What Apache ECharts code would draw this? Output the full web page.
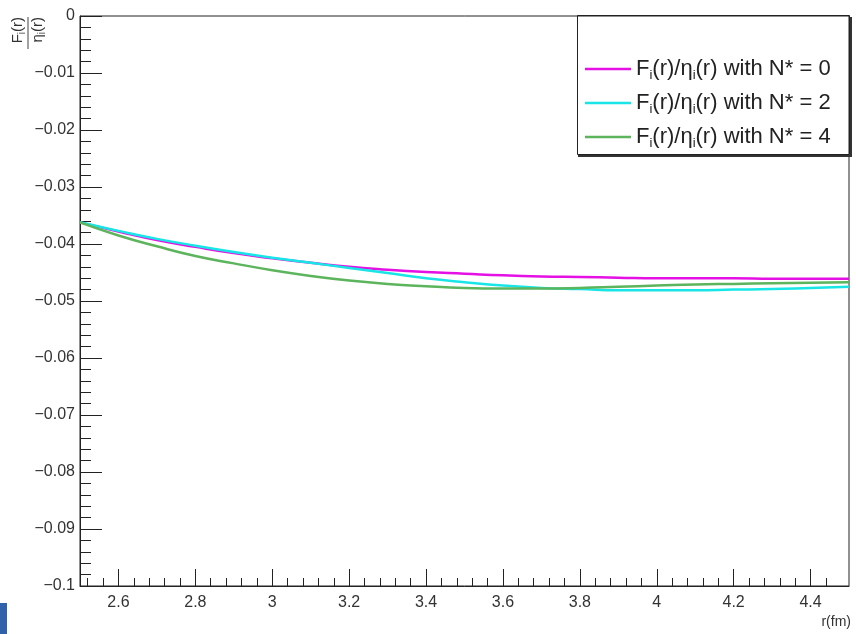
<!DOCTYPE html>
<html>
<head>
<meta charset="utf-8">
<script src="https://cdn.jsdelivr.net/npm/echarts@6/dist/echarts.min.js"></script>
<style>
  html, body { margin: 0; padding: 0; background: #fff; }
  #chart { width: 856px; height: 634px; }
</style>
</head>
<body>
<div id="chart"></div>
<script>
// r (fm) sample points
const rValues = [2.5, 2.6, 2.7, 2.8, 2.9, 3.0, 3.1, 3.2, 3.3, 3.4, 3.5,
  3.6, 3.7, 3.8, 3.9, 4.0, 4.1, 4.2, 4.3, 4.4, 4.5];
// F_i(r)/eta_i(r), N* = 0
const ratioN0 = [-0.0362, -0.0378, -0.0393, -0.0405, -0.0416, -0.0425, -0.0433,
  -0.0440, -0.0445, -0.0449, -0.0452, -0.0455, -0.0457, -0.0458, -0.0459,
  -0.0460, -0.0460, -0.0460, -0.0461, -0.0461, -0.0461];
// N* = 2
const ratioN2 = [-0.0362, -0.0377, -0.0391, -0.0403, -0.0414, -0.0424, -0.0433,
  -0.0442, -0.0451, -0.0460, -0.0467, -0.0473, -0.0477, -0.0479, -0.0481,
  -0.0481, -0.0481, -0.0480, -0.0479, -0.0477, -0.0475];
// N* = 4
const ratioN4 = [-0.0362, -0.0385, -0.0404, -0.0421, -0.0434, -0.0446, -0.0456,
  -0.0464, -0.0470, -0.0474, -0.0477, -0.0478, -0.0478, -0.0477, -0.0475,
  -0.0473, -0.0471, -0.0470, -0.0469, -0.0468, -0.0467];

const seriesNames = ["N0", "N2", "N4"];
const legendLabels = {
  N0: "F{s|i}(r)/η{s|i}(r) with N* = 0",
  N2: "F{s|i}(r)/η{s|i}(r) with N* = 2",
  N4: "F{s|i}(r)/η{s|i}(r) with N* = 4"
};

// axis ticks
const xTickValues = [2.6, 2.8, 3.0, 3.2, 3.4, 3.6, 3.8, 4.0, 4.2, 4.4];
const xTickLabels = ["2.6", "2.8", "3", "3.2", "3.4", "3.6", "3.8", "4", "4.2", "4.4"];
const yTickLabels = ["0", "−0.01", "−0.02", "−0.03", "−0.04", "−0.05",
  "−0.06", "−0.07", "−0.08", "−0.09", "−0.1"];

// minor ticks on x every 0.04 (2.52, 2.56, ...)
let xMinorTicks = [];
for (let k = 1; k < 50; k++) {
  xMinorTicks.push(Math.round((2.48 + k * 0.04) * 1000) / 1000);
}

const font = "'Liberation Sans Narrow', 'Liberation Sans', Arial, sans-serif";

function pairs(ys) {
  return rValues.map(function (x, i) {
    return [x, ys[i]];
  });
}

const chart = echarts.init(document.getElementById("chart"));
chart.setOption({
  animation: false,
  backgroundColor: "#fff",
  grid: {
    left: 80,
    right: 7,
    top: 16,
    bottom: 48,
    show: true,
    borderColor: "#222",
    borderWidth: 1
  },
  xAxis: [
    {
      type: "value",
      min: 2.5,
      max: 4.5,
      position: "bottom",
      axisLine: { show: true, onZero: false, lineStyle: { color: "#222", width: 1 } },
      axisTick: {
        inside: true,
        length: 17,
        customValues: xTickValues,
        lineStyle: { color: "#222" }
      },
      axisLabel: {
        customValues: xTickValues,
        margin: 9,
        color: "#333",
        fontFamily: font,
        fontSize: 16,
        formatter: function (v) {
          const i = xTickValues.findIndex((t) => Math.abs(t - v) < 1e-6);
          return i >= 0 ? xTickLabels[i] : "";
        }
      },
      splitLine: { show: false }
    },
    {
      type: "value",
      min: 2.5,
      max: 4.5,
      position: "bottom",
      axisLine: { show: false, onZero: false },
      axisTick: {
        inside: true,
        length: 8,
        customValues: xMinorTicks,
        lineStyle: { color: "#222" }
      },
      axisLabel: { show: false },
      splitLine: { show: false }
    }
  ],
  yAxis: {
    type: "value",
    min: -0.1,
    max: 0,
    interval: 0.01,
    axisLine: { show: true, onZero: false, lineStyle: { color: "#222", width: 1 } },
    axisTick: { inside: true, length: 22, lineStyle: { color: "#222" } },
    minorTick: { show: true, splitNumber: 5, length: 11, lineStyle: { color: "#222" } },
    axisLabel: {
      margin: 5,
      color: "#333",
      fontFamily: font,
      fontSize: 16,
      formatter: function (v) {
        return yTickLabels[Math.round(-v / 0.01)];
      }
    },
    splitLine: { show: false }
  },
  legend: {
    orient: "vertical",
    left: 580,
    top: 51,
    icon: "rect",
    itemWidth: 46,
    itemHeight: 2.5,
    itemGap: 8,
    data: seriesNames,
    formatter: function (name) {
      return legendLabels[name];
    },
    textStyle: {
      fontFamily: font,
      fontSize: 22,
      lineHeight: 26,
      color: "#222",
      rich: {
        s: { fontFamily: font, fontSize: 13, padding: [13, 0, 0, 0], color: "#222" }
      }
    }
  },
  series: [
    {
      name: "N0",
      type: "line",
      data: pairs(ratioN0),
      smooth: true,
      symbol: "none",
      lineStyle: { color: "#e410e4", width: 2.5 },
      itemStyle: { color: "#e410e4" }
    },
    {
      name: "N2",
      type: "line",
      data: pairs(ratioN2),
      smooth: true,
      symbol: "none",
      lineStyle: { color: "#18e6e6", width: 2.5 },
      itemStyle: { color: "#18e6e6" }
    },
    {
      name: "N4",
      type: "line",
      data: pairs(ratioN4),
      smooth: true,
      symbol: "none",
      lineStyle: { color: "#5cb45c", width: 2.5 },
      itemStyle: { color: "#5cb45c" }
    }
  ],
  graphic: [
    // legend box
    {
      type: "rect",
      shape: { x: 577.5, y: 15.5, width: 272, height: 139 },
      style: { fill: "none", stroke: "#222", lineWidth: 1 },
      z: 10
    },
    {
      type: "polyline",
      shape: { points: [[578, 156], [851, 156], [851, 17]] },
      style: { stroke: "#333", lineWidth: 2, fill: "none" },
      z: 10
    },
    // y axis title (rotated fraction)
    {
      type: "text",
      x: 18,
      y: 17,
      rotation: Math.PI / 2,
      style: {
        text: "F{s|i}(r)",
        align: "right",
        verticalAlign: "middle",
        font: "15px " + font,
        fill: "#333",
        rich: { s: { fontSize: 10, padding: [8, 0, 0, 0], fill: "#333" } }
      }
    },
    {
      type: "line",
      shape: { x1: 28, y1: 17, x2: 28, y2: 49 },
      style: { stroke: "#444", lineWidth: 1 }
    },
    {
      type: "text",
      x: 38,
      y: 17,
      rotation: Math.PI / 2,
      style: {
        text: "η{s|i}(r)",
        align: "right",
        verticalAlign: "middle",
        font: "15px " + font,
        fill: "#333",
        rich: { s: { fontSize: 10, padding: [8, 0, 0, 0], fill: "#333" } }
      }
    },
    // x axis title
    {
      type: "text",
      x: 851,
      y: 622,
      style: {
        text: "r(fm)",
        align: "right",
        verticalAlign: "middle",
        font: "14px " + font,
        fill: "#333"
      }
    },
    // blue corner mark
    {
      type: "rect",
      shape: { x: 0, y: 603, width: 7, height: 31 },
      style: { fill: "#2f62aa" }
    }
  ]
});
</script>
</body>
</html>
